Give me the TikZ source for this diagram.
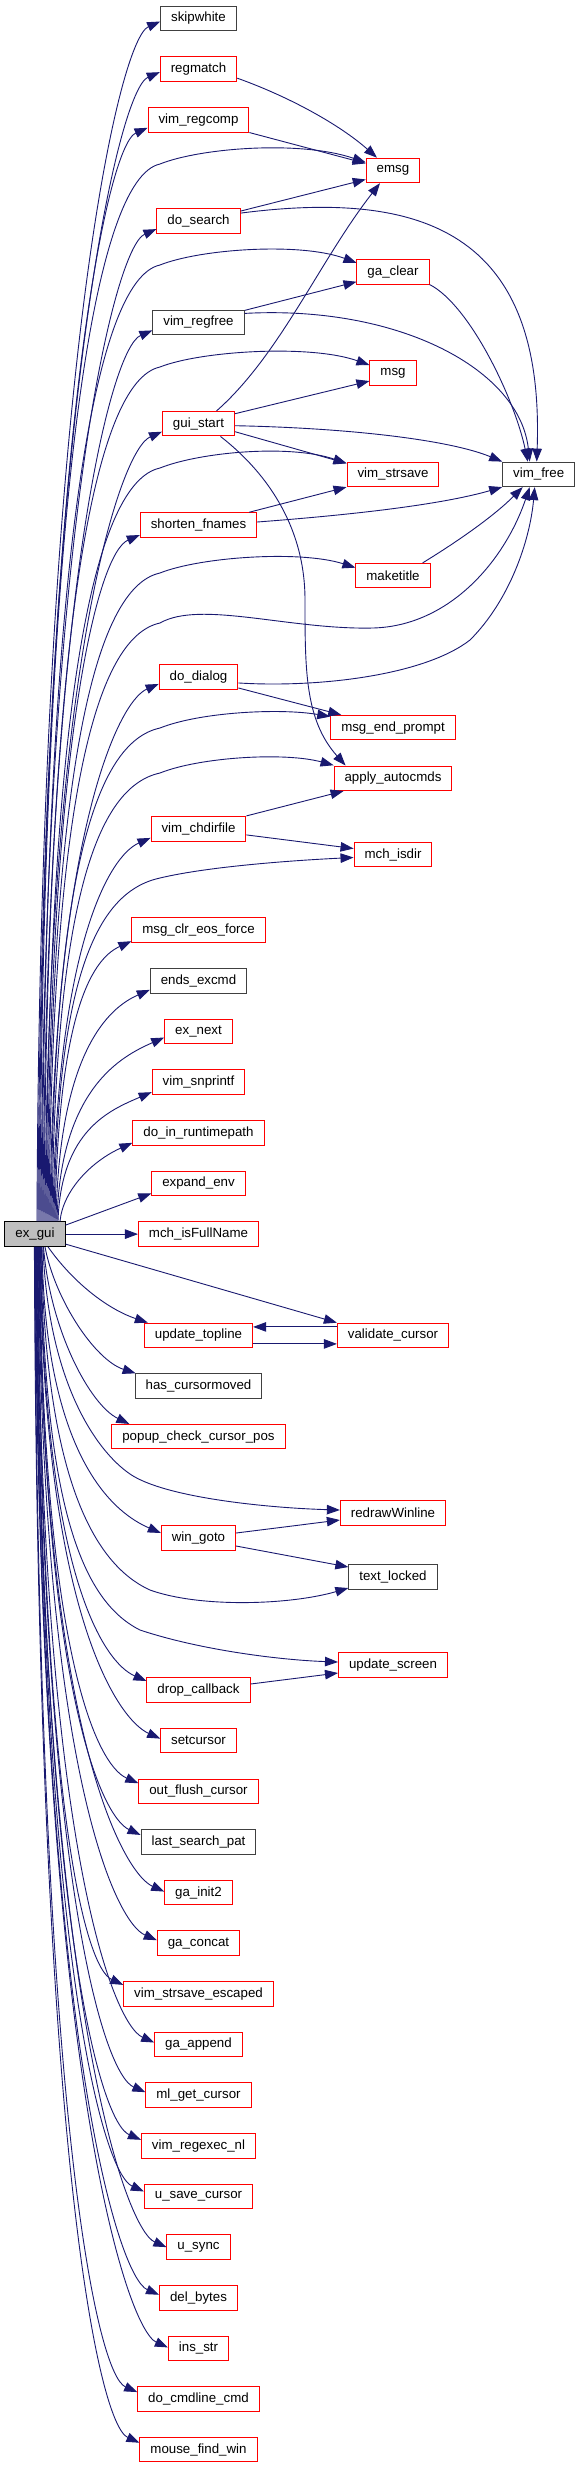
\documentclass[tikz,border=0pt]{standalone}
\usepackage{fontspec}
\setmainfont{Liberation Sans}
\usepackage{xcolor}
\usepackage{tikz}
\usetikzlibrary{arrows.meta}

\definecolor{edgeblue}{HTML}{191970}
\definecolor{rootgray}{HTML}{BFBFBF}
\definecolor{leafgray}{HTML}{404040}

\begin{document}
\begin{tikzpicture}[
    x=1pt, y=-1pt,
    fn/.style={draw=red, fill=white, line width=1pt, minimum height=24.5pt,
               inner xsep=10.5pt, inner ysep=1pt,
               font=\fontsize{13.3}{15}\selectfont},
    fnleaf/.style={fn, draw=leafgray},
    root/.style={fn, draw=black, fill=rootgray},
    call/.style={-{Triangle[length=13pt, width=9.5pt]}, edgeblue, line width=0.9pt},
]
\useasboundingbox[fill=white] (0,0) rectangle (580,2469);

% --- Caller ---
\node[root] (exgui) at (35,1234.1) {ex\_gui};

% --- First column ---
\node[fnleaf] (skipwhite) at (198.5,18.5) {skipwhite};
\node[fn] (regmatch) at (198.5,69.15) {regmatch};
\node[fn] (vimregcomp) at (198.5,119.8) {vim\_regcomp};
\node[fn] (dosearch) at (198.5,221.1) {do\_search};
\node[fnleaf] (vimregfree) at (198.5,322.4) {vim\_regfree};
\node[fn] (guistart) at (198.5,423.7) {gui\_start};
\node[fn] (shortenfnames) at (198.5,525) {shorten\_fnames};
\node[fn] (dodialog) at (198.5,676.95) {do\_dialog};
\node[fn] (vimchdirfile) at (198.5,828.9) {vim\_chdirfile};
\node[fn] (msgclreos) at (198.5,930.2) {msg\_clr\_eos\_force};
\node[fnleaf] (endsexcmd) at (198.5,980.85) {ends\_excmd};
\node[fn] (exnext) at (198.5,1031.5) {ex\_next};
\node[fn] (vimsnprintf) at (198.5,1082.15) {vim\_snprintf};
\node[fn] (doinrtp) at (198.5,1132.8) {do\_in\_runtimepath};
\node[fn] (expandenv) at (198.5,1183.45) {expand\_env};
\node[fn] (mchisfullname) at (198.5,1234.1) {mch\_isFullName};
\node[fn] (updatetopline) at (198.5,1335.4) {update\_topline};
\node[fnleaf] (hascursormoved) at (198.5,1386.05) {has\_cursormoved};
\node[fn] (popupcheck) at (198.5,1436.7) {popup\_check\_cursor\_pos};
\node[fn] (wingoto) at (198.5,1538) {win\_goto};
\node[fn] (dropcallback) at (198.5,1690) {drop\_callback};
\node[fn] (setcursor) at (198.5,1740.6) {setcursor};
\node[fn] (outflushcursor) at (198.5,1791.25) {out\_flush\_cursor};
\node[fnleaf] (lastsearchpat) at (198.5,1841.9) {last\_search\_pat};
\node[fn] (gainit) at (198.5,1892.55) {ga\_init2};
\node[fn] (gaconcat) at (198.5,1943.2) {ga\_concat};
\node[fn] (vimstrsaveesc) at (198.5,1993.85) {vim\_strsave\_escaped};
\node[fn] (gaappend) at (198.5,2044.5) {ga\_append};
\node[fn] (mlgetcursor) at (198.5,2095.15) {ml\_get\_cursor};
\node[fn] (vimregexecnl) at (198.5,2145.8) {vim\_regexec\_nl};
\node[fn] (usavecursor) at (198.5,2196.45) {u\_save\_cursor};
\node[fn] (usync) at (198.5,2247.1) {u\_sync};
\node[fn] (delbytes) at (198.5,2297.75) {del\_bytes};
\node[fn] (insstr) at (198.5,2348.4) {ins\_str};
\node[fn] (docmdlinecmd) at (198.5,2399.05) {do\_cmdline\_cmd};
\node[fn] (mousefindwin) at (198.5,2449.7) {mouse\_find\_win};

% --- Second column ---
\node[fn] (emsg) at (393,170.45) {emsg};
\node[fn] (gaclear) at (393,271.75) {ga\_clear};
\node[fn] (msg) at (393,373.05) {msg};
\node[fn] (vimstrsave) at (393,474.35) {vim\_strsave};
\node[fn] (maketitle) at (393,575.65) {maketitle};
\node[fn] (msgendprompt) at (393,727.6) {msg\_end\_prompt};
\node[fn] (applyautocmds) at (393,778.25) {apply\_autocmds};
\node[fn] (mchisdir) at (393,854.5) {mch\_isdir};
\node[fn] (validatecursor) at (393,1335.4) {validate\_cursor};
\node[fn] (redrawwinline) at (393,1513) {redrawWinline};
\node[fnleaf] (textlocked) at (393,1577) {text\_locked};
\node[fn] (updatescreen) at (393,1665) {update\_screen};

% --- Third column ---
\node[fnleaf] (vimfree) at (538.7,474.35) {vim\_free};

% --- Calls from ex_gui, upwards ---
\draw[call] ([xshift=2pt]exgui.north) .. controls (40,380) and (118,40) .. ([yshift=-3pt]skipwhite.west);
\draw[call] ([xshift=3pt]exgui.north) .. controls (41,415) and (118,90) .. ([yshift=-3pt]regmatch.west);
\draw[call] ([xshift=4pt]exgui.north) .. controls (42,451) and (106,146) .. ([yshift=-8pt]vimregcomp.west);
\draw[call] ([xshift=5pt]exgui.north) .. controls (43,481) and (95,178) .. (160,164)
    .. controls (200,148) and (300,140) .. ([yshift=8pt]emsg.west);
\draw[call] ([xshift=6pt]exgui.north) .. controls (44,521) and (115,247) .. ([yshift=-8pt]dosearch.west);
\draw[call] ([xshift=7pt]exgui.north) .. controls (45,552) and (95,279) .. (160,265)
    .. controls (200,249) and (300,242) .. ([yshift=9pt]gaclear.west);
\draw[call] ([xshift=8pt]exgui.north) .. controls (46,592) and (111,348) .. ([yshift=-8pt]vimregfree.west);
\draw[call] ([xshift=9pt]exgui.north) .. controls (47,623) and (95,381) .. (160,367)
    .. controls (200,351) and (310,344) .. ([yshift=8pt]msg.west);
\draw[call] ([xshift=10pt]exgui.north) .. controls (48,663) and (120,450) .. ([yshift=-8pt]guistart.west);
\draw[call] ([xshift=11pt]exgui.north) .. controls (49,694) and (95,482) .. (160,468)
    .. controls (200,452) and (290,444) .. ([yshift=11pt]vimstrsave.west);
\draw[call] ([xshift=12pt]exgui.north) .. controls (50,734) and (98,553) .. ([yshift=-10pt]shortenfnames.west);
\draw[call] ([xshift=13pt]exgui.north) .. controls (51,768) and (95,587) .. (160,573)
    .. controls (200,557) and (300,550) .. ([yshift=8pt]maketitle.west);
\draw[call] ([xshift=14pt]exgui.north) .. controls (52,803) and (95,637) .. (160,623)
    .. controls (200,600) and (290,630) .. (373,628)
    .. controls (450,626) and (505,560) .. ([xshift=-9pt]vimfree.south);
\draw[call] ([xshift=15pt]exgui.north) .. controls (53,840) and (117,702) .. ([yshift=-7pt]dodialog.west);
\draw[call] ([xshift=16pt]exgui.north) .. controls (54,876) and (95,742) .. (160,728)
    .. controls (200,712) and (280,708) .. ([yshift=11pt]msgendprompt.west);
\draw[call] ([xshift=17pt]exgui.north) .. controls (55,908) and (95,787) .. (160,773)
    .. controls (200,757) and (285,752) .. ([yshift=13pt]applyautocmds.west);
\draw[call] ([xshift=18pt]exgui.north) .. controls (56,947) and (109,856) .. ([yshift=-9pt]vimchdirfile.west);
\draw[call] ([xshift=19pt]exgui.north) .. controls (57,981) and (95,892) .. (160,878)
    .. controls (210,866) and (300,860) .. ([yshift=-3pt]mchisdir.west);
\draw[call] ([xshift=20pt]exgui.north) .. controls (58,1018) and (90,960) .. ([yshift=-11pt]msgclreos.west);
\draw[call] ([xshift=21pt]exgui.north) .. controls (59,1053) and (108,1008) .. ([yshift=-9pt]endsexcmd.west);
\draw[call] ([xshift=22pt]exgui.north) .. controls (60,1088) and (122,1056) .. ([yshift=-6pt]exnext.west);
\draw[call] ([xshift=23pt]exgui.north) .. controls (61,1130) and (110,1110) .. ([yshift=-10pt]vimsnprintf.west);
\draw[call] ([xshift=25pt]exgui.north) .. controls (63,1190) and (92,1161) .. ([yshift=-10pt]doinrtp.west);
\draw[call] ([yshift=9pt]exgui.east) -- ([yshift=-10pt]expandenv.west);
\draw[call] (exgui.east) -- (mchisfullname.west);
\draw[call] ([yshift=-10pt]exgui.east) -- (validatecursor.north west);

% --- Calls from ex_gui, downwards ---
\draw[call] ([xshift=13pt]exgui.south) .. controls (75,1285) and (110,1310) .. ([xshift=4pt]updatetopline.north west);
\draw[call] ([xshift=10pt]exgui.south) .. controls (55,1300) and (95,1360) .. ([xshift=1pt]hascursormoved.north west);
\draw[call] ([xshift=8.5pt]exgui.south) .. controls (50,1330) and (90,1405) .. ([xshift=18pt]popupcheck.north west);
\draw[call] ([xshift=8pt]exgui.south) .. controls (48,1380) and (95,1450) .. (130,1474)
    .. controls (165,1498) and (270,1508) .. ([yshift=3pt]redrawwinline.west);
\draw[call] ([xshift=7pt]exgui.south) .. controls (45,1465) and (119,1515) .. ([yshift=5pt]wingoto.west);
\draw[call] ([xshift=6.5pt]exgui.south) .. controls (45,1480) and (95,1565) .. (150,1590)
    .. controls (200,1608) and (290,1605) .. ([yshift=-11pt]textlocked.west);
\draw[call] ([xshift=6pt]exgui.south) .. controls (44,1500) and (80,1600) .. (140,1630)
    .. controls (200,1650) and (280,1660) .. ([yshift=3pt]updatescreen.west);
\draw[call] ([xshift=5.5pt]exgui.south) .. controls (43.5,1579) and (105,1663) .. ([yshift=9pt]dropcallback.west);
\draw[call] ([xshift=5pt]exgui.south) .. controls (43,1617) and (119,1720) .. ([yshift=2pt]setcursor.west);
\draw[call] ([xshift=4.6pt]exgui.south) .. controls (42.6,1655) and (97,1765) .. ([yshift=8pt]outflushcursor.west);
\draw[call] ([xshift=4.2pt]exgui.south) .. controls (42.2,1693) and (102,1817) .. ([yshift=7pt]lastsearchpat.west);
\draw[call] ([xshift=3.8pt]exgui.south) .. controls (41.8,1731) and (123,1873) .. ([yshift=1pt]gainit.west);
\draw[call] ([xshift=3.4pt]exgui.south) .. controls (41.4,1769) and (115,1922) .. ([yshift=3pt]gaconcat.west);
\draw[call] ([xshift=3pt]exgui.south) .. controls (41,1807) and (85,1967) .. ([yshift=9pt]vimstrsaveesc.west);
\draw[call] ([xshift=2.6pt]exgui.south) .. controls (40.6,1845) and (113,2024) .. ([yshift=2pt]gaappend.west);
\draw[call] ([xshift=2.2pt]exgui.south) .. controls (40.2,1883) and (104,2074) .. ([yshift=3pt]mlgetcursor.west);
\draw[call] ([xshift=1.8pt]exgui.south) .. controls (39.8,1921) and (100,2122) .. ([yshift=6pt]vimregexecnl.west);
\draw[call] ([xshift=1.4pt]exgui.south) .. controls (39.4,1959) and (103,2173) .. ([yshift=5pt]usavecursor.west);
\draw[call] ([xshift=1pt]exgui.south) .. controls (39,1997) and (125,2229) .. (usync.west);
\draw[call] ([xshift=0.6pt]exgui.south) .. controls (38.6,2035) and (118,2277) .. ([yshift=3pt]delbytes.west);
\draw[call] ([xshift=0.2pt]exgui.south) .. controls (38.2,2073) and (127,2329) .. ([yshift=1pt]insstr.west);
\draw[call] ([xshift=-0.2pt]exgui.south) .. controls (37.8,2111) and (96,2374) .. ([yshift=7pt]docmdlinecmd.west);
\draw[call] ([xshift=-0.6pt]exgui.south) .. controls (37.4,2149) and (98,2424) .. ([yshift=7pt]mousefindwin.west);

% --- Calls between callees ---
\draw[call] ([yshift=-9pt]regmatch.east) .. controls (290,97) and (340,125) .. ([xshift=-16pt]emsg.north);
\draw[call] (vimregcomp.south east) -- ([yshift=7pt]emsg.west);
\draw[call] ([yshift=10pt]dosearch.east) -- ([yshift=-9pt]emsg.west);
\draw[call] ([yshift=8pt]dosearch.east) .. controls (420,190) and (545,230) .. ([xshift=-2pt]vimfree.north);
\draw[call] ([yshift=12pt]vimregfree.east) -- ([yshift=-10pt]gaclear.west);
\draw[call] ([yshift=9pt]vimregfree.east) .. controls (400,305) and (520,370) .. ([xshift=-9pt]vimfree.north);
\draw[call] (gaclear.south east) .. controls (470,305) and (515,400) .. ([xshift=-11pt]vimfree.north);
\draw[call] ([xshift=18pt]guistart.north) .. controls (280,355) and (320,260) .. ([xshift=-13pt]emsg.south);
\draw[call] ([yshift=10pt]guistart.east) -- ([yshift=-8pt]msg.west);
\draw[call] ([yshift=-2pt]guistart.east) .. controls (350,428) and (450,440) .. (vimfree.north west);
\draw[call] ([yshift=-8pt]guistart.east) -- ([yshift=11pt]vimstrsave.west);
\draw[call] ([xshift=22pt]guistart.south) .. controls (270,475) and (305,530) .. (305,600)
    .. controls (305,670) and (305,720) .. ([xshift=12pt]applyautocmds.north west);
\draw[call] ([xshift=-8pt]shortenfnames.north east) -- (vimstrsave.south west);
\draw[call] ([yshift=3pt]shortenfnames.east) .. controls (350,515) and (440,505) .. (vimfree.south west);
\draw[call] ([xshift=-8pt]maketitle.north east) .. controls (460,540) and (495,515) .. ([xshift=-16pt]vimfree.south);
\draw[call] ([yshift=-6pt]dodialog.east) .. controls (320,688) and (425,675) .. (470,640)
    .. controls (510,600) and (530,540) .. ([xshift=-4pt]vimfree.south);
\draw[call] ([yshift=-11pt]dodialog.east) -- ([xshift=11pt]msgendprompt.north west);
\draw[call] ([yshift=13pt]vimchdirfile.east) -- ([xshift=10pt]applyautocmds.south west);
\draw[call] ([yshift=-6pt]vimchdirfile.east) -- ([yshift=6pt]mchisdir.west);
\draw[call] ([yshift=8.5pt]validatecursor.west) -- ([yshift=8.5pt]updatetopline.east);
\draw[call] ([yshift=-8.5pt]updatetopline.east) -- ([yshift=-8.5pt]validatecursor.west);
\draw[call] ([yshift=5pt]wingoto.east) -- ([yshift=-7pt]redrawwinline.west);
\draw[call] ([yshift=-8pt]wingoto.east) -- ([yshift=10pt]textlocked.west);
\draw[call] ([yshift=6pt]dropcallback.east) -- ([yshift=-8pt]updatescreen.west);
\end{tikzpicture}
\end{document}
